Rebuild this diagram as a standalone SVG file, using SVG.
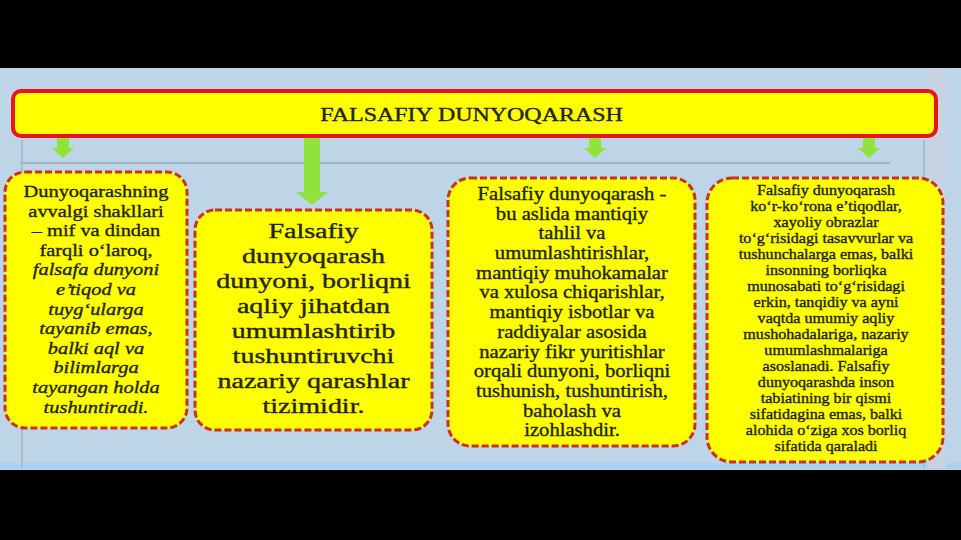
<svg xmlns="http://www.w3.org/2000/svg" width="961" height="540" viewBox="0 0 961 540">
<defs>
<style>
.t{font-family:"Liberation Serif","Times New Roman",serif;fill:#24240e;stroke:#24240e;stroke-width:0.35;text-anchor:middle}
.box{fill:#ffff00;stroke:#c8321e;stroke-width:3;stroke-dasharray:7 3}
.arr{fill:#8fe33c}
.it{font-style:italic}
</style>
</defs>
<rect x="0" y="0" width="961" height="540" fill="#000"/>
<rect x="0" y="68" width="961" height="402" fill="#bed5e8"/>
<rect x="0" y="463" width="961" height="6" fill="#a9d2f2"/>
<rect x="928" y="68" width="18" height="400" fill="#c7d3e2"/>
<line x1="20" y1="163" x2="890" y2="163" stroke="#9fb2c2" stroke-width="2"/>
<line x1="22" y1="140" x2="22" y2="468" stroke="#a9bccc" stroke-width="2"/>
<line x1="924" y1="140" x2="924" y2="468" stroke="#a9bccc" stroke-width="2"/>

<g id="connectors">
<path class="arr" d="M57 138 H69 V148 H74 L63 158 L52 148 H57 Z"/>
<path class="arr" d="M304 137 H320 V192 H328 L312 205 L296 192 H304 Z"/>
<path class="arr" d="M589 138 H601 V148 H606 L595 158 L584 148 H589 Z"/>
<path class="arr" d="M863 138 H875 V148 H880 L869 158 L858 148 H863 Z"/>
</g>

<g id="title">
<rect x="13" y="91" width="923" height="45" rx="8" fill="#ffff00" stroke="#e8141c" stroke-width="4"/>
<g transform="translate(471.5 0) scale(1.26 1)"><text class="t" x="0" y="121" font-size="19">FALSAFIY DUNYOQARASH</text></g>
</g>

<g id="node1">
<rect class="box" x="5" y="172" width="182" height="256" rx="20"/>
<g transform="translate(96 0) scale(1.2 1)" font-size="17">
<text class="t" x="0" y="197">Dunyoqarashning</text>
<text class="t" x="0" y="216.6">avvalgi shakllari</text>
<text class="t" x="0" y="236.2">– mif va dindan</text>
<text class="t" x="0" y="255.8">farqli o‘laroq,</text>
<text class="t it" x="0" y="275.4">falsafa dunyoni</text>
<text class="t it" x="0" y="295">e’tiqod va</text>
<text class="t it" x="0" y="314.6">tuyg‘ularga</text>
<text class="t it" x="0" y="334.2">tayanib emas,</text>
<text class="t it" x="0" y="353.8">balki aql va</text>
<text class="t it" x="0" y="373.4">bilimlarga</text>
<text class="t it" x="0" y="393">tayangan holda</text>
<text class="t it" x="0" y="412.6">tushuntiradi.</text>
</g>
</g>

<g id="node2">
<rect class="box" x="195" y="210" width="237" height="220" rx="20"/>
<g transform="translate(313.5 0) scale(1.4 1)" font-size="20">
<text class="t" x="0" y="238">Falsafiy</text>
<text class="t" x="0" y="263">dunyoqarash</text>
<text class="t" x="0" y="288">dunyoni, borliqni</text>
<text class="t" x="0" y="313">aqliy jihatdan</text>
<text class="t" x="0" y="338">umumlashtirib</text>
<text class="t" x="0" y="363">tushuntiruvchi</text>
<text class="t" x="0" y="388">nazariy qarashlar</text>
<text class="t" x="0" y="413">tizimidir.</text>
</g>
</g>

<g id="node3">
<rect class="box" x="448" y="178" width="247" height="268" rx="22"/>
<g transform="translate(572 0) scale(1.146 1)" font-size="18">
<text class="t" x="0" y="200">Falsafiy dunyoqarash -</text>
<text class="t" x="0" y="219.7">bu aslida mantiqiy</text>
<text class="t" x="0" y="239.4">tahlil va</text>
<text class="t" x="0" y="259.1">umumlashtirishlar,</text>
<text class="t" x="0" y="278.8">mantiqiy muhokamalar</text>
<text class="t" x="0" y="298.5">va xulosa chiqarishlar,</text>
<text class="t" x="0" y="318.2">mantiqiy isbotlar va</text>
<text class="t" x="0" y="337.9">raddiyalar asosida</text>
<text class="t" x="0" y="357.6">nazariy fikr yuritishlar</text>
<text class="t" x="0" y="377.3">orqali dunyoni, borliqni</text>
<text class="t" x="0" y="397">tushunish, tushuntirish,</text>
<text class="t" x="0" y="416.7">baholash va</text>
<text class="t" x="0" y="436.4">izohlashdir.</text>
</g>
</g>

<g id="node4">
<rect class="box" x="707" y="178" width="236" height="284" rx="25"/>
<g transform="translate(826 0) scale(1.15 1)" font-size="14">
<text class="t" x="0" y="195">Falsafiy dunyoqarash</text>
<text class="t" x="0" y="211">ko‘r-ko‘rona e’tiqodlar,</text>
<text class="t" x="0" y="227">xayoliy obrazlar</text>
<text class="t" x="0" y="243">to‘g‘risidagi tasavvurlar va</text>
<text class="t" x="0" y="259">tushunchalarga emas, balki</text>
<text class="t" x="0" y="275">insonning borliqka</text>
<text class="t" x="0" y="291">munosabati to‘g‘risidagi</text>
<text class="t" x="0" y="307">erkin, tanqidiy va ayni</text>
<text class="t" x="0" y="323">vaqtda umumiy aqliy</text>
<text class="t" x="0" y="339">mushohadalariga, nazariy</text>
<text class="t" x="0" y="355">umumlashmalariga</text>
<text class="t" x="0" y="371">asoslanadi. Falsafiy</text>
<text class="t" x="0" y="387">dunyoqarashda inson</text>
<text class="t" x="0" y="403">tabiatining bir qismi</text>
<text class="t" x="0" y="419">sifatidagina emas, balki</text>
<text class="t" x="0" y="435">alohida o‘ziga xos borliq</text>
<text class="t" x="0" y="451">sifatida qaraladi</text>
</g>
</g>
</svg>
